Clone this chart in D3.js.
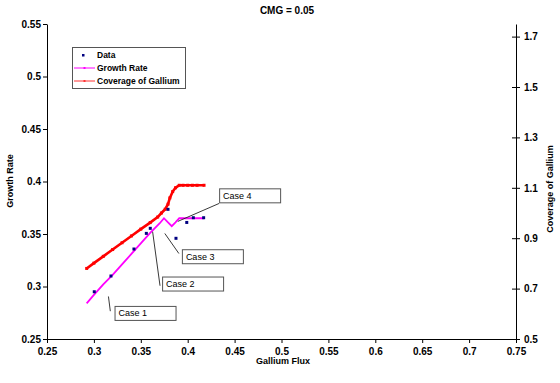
<!DOCTYPE html>
<html>
<head>
<meta charset="utf-8">
<script src="https://cdn.jsdelivr.net/npm/d3@7"></script>
<style>
  body { margin: 0; background: #fff; }
  svg { display: block; font-family: "Liberation Sans", Arial, sans-serif; }
</style>
</head>
<body>
<div id="chart"></div>
<script>
const title = "CMG = 0.05";

// measured points (navy dots)
const dataFlux = [0.3004, 0.3182, 0.3427, 0.3559, 0.3601, 0.379, 0.3875, 0.399, 0.406, 0.417];
const dataRate = [0.295, 0.310, 0.3357, 0.3506, 0.3554, 0.3735, 0.3459, 0.361, 0.3655, 0.3655];

// growth rate model (left axis)
const rateFlux = [0.2923, 0.300, 0.310, 0.320, 0.330, 0.340, 0.350, 0.360, 0.370, 0.3747, 0.379, 0.383, 0.387, 0.391, 0.400, 0.410, 0.4174];
const rateVals = [0.284, 0.292, 0.302, 0.311, 0.321, 0.331, 0.341, 0.351, 0.360, 0.365, 0.361, 0.3575, 0.361, 0.365, 0.365, 0.365, 0.365];

// coverage of gallium (right axis)
const covFlux = [0.2923, 0.300, 0.310, 0.320, 0.330, 0.340, 0.350, 0.360, 0.368, 0.372, 0.376, 0.379, 0.381, 0.384, 0.387, 0.391, 0.395, 0.400, 0.405, 0.410, 0.4174];
const covVals = [0.780, 0.801, 0.828, 0.855, 0.882, 0.909, 0.936, 0.962, 0.984, 1.000, 1.015, 1.035, 1.060, 1.085, 1.100, 1.110, 1.110, 1.110, 1.110, 1.110, 1.110];

const xTicks = [0.25, 0.3, 0.35, 0.4, 0.45, 0.5, 0.55, 0.6, 0.65, 0.7, 0.75];
const yLeftTicks = [0.25, 0.3, 0.35, 0.4, 0.45, 0.5, 0.55];
const yRightTicks = [0.5, 0.7, 0.9, 1.1, 1.3, 1.5, 1.7];

// callouts: label, point it refers to (flux, rate), box top-left in data units
const caseNames = ["Case 1", "Case 2", "Case 3", "Case 4"];
const caseFrom = [[0.3155, 0.2905], [0.3626, 0.3522], [0.3756, 0.3505], [0.3895, 0.362]];
const caseTo = [[0.3175, 0.2765], [0.3705, 0.3007], [0.3906, 0.3314], [0.4335, 0.3791]];
const caseBox = [[0.322, 0.2815], [0.3727, 0.3095], [0.3938, 0.3355], [0.4335, 0.3935]];

const W = 560, H = 383;
const L = 47, R = 516, T = 24, B = 339;

const x = d3.scaleLinear().domain([0.25, 0.75]).range([L, R]);
const yL = d3.scaleLinear().domain([0.25, 0.55]).range([B, T]);
const yR = d3.scaleLinear().domain([0.5, 1.75]).range([B, T]);

const svg = d3.select("#chart").append("svg").attr("width", W).attr("height", H);

svg.append("text")
  .attr("x", 287).attr("y", 14)
  .attr("text-anchor", "middle")
  .attr("font-size", "10px").attr("font-weight", "bold")
  .text(title);

// axes
const fmt = d => String(d);
const gx = svg.append("g").attr("transform", `translate(0,${B})`)
  .call(d3.axisBottom(x).tickValues(xTicks).tickFormat(fmt).tickSize(4).tickSizeOuter(0));
const gl = svg.append("g").attr("transform", `translate(${L},0)`)
  .call(d3.axisLeft(yL).tickValues(yLeftTicks).tickFormat(fmt).tickSize(4).tickSizeOuter(0));
const gr = svg.append("g").attr("transform", `translate(${R},0)`)
  .call(d3.axisRight(yR).tickValues(yRightTicks).tickFormat(fmt).tickSize(4).tickSizeOuter(0));
gr.selectAll(".tick line").attr("x1", -4);

[gx, gl, gr].forEach(g => {
  g.select(".domain").attr("stroke", "#000");
  g.selectAll(".tick line").attr("stroke", "#000");
  g.selectAll(".tick text")
    .attr("font-size", "10px").attr("font-weight", "bold")
    .attr("font-family", "Liberation Sans, Arial, sans-serif")
    .attr("fill", "#000");
});
gx.selectAll(".tick text").attr("dy", "0.9em");
gr.selectAll(".tick text").attr("x", 8);
gl.selectAll(".tick text").attr("x", -6);

svg.append("text")
  .attr("x", 283).attr("y", 364)
  .attr("text-anchor", "middle")
  .attr("font-size", "9px").attr("font-weight", "bold")
  .text("Gallium Flux");
svg.append("text")
  .attr("transform", "translate(13,181) rotate(-90)")
  .attr("text-anchor", "middle")
  .attr("font-size", "9px").attr("font-weight", "bold")
  .text("Growth Rate");
svg.append("text")
  .attr("transform", "translate(553,189) rotate(-90)")
  .attr("text-anchor", "middle")
  .attr("font-size", "9px").attr("font-weight", "bold")
  .text("Coverage of Gallium");

// coverage line
const covPts = covFlux.map((f, i) => [x(f), yR(covVals[i])]);
svg.append("path")
  .attr("d", d3.line()(covPts))
  .attr("fill", "none").attr("stroke", "#ff0000").attr("stroke-width", 2.6);
svg.selectAll(".covm").data(covPts).enter().append("rect")
  .attr("x", d => d[0] - 1.5).attr("y", d => d[1] - 1.5)
  .attr("width", 3).attr("height", 3).attr("fill", "#ff0000");

// growth rate line
const ratePts = rateFlux.map((f, i) => [x(f), yL(rateVals[i])]);
svg.append("path")
  .attr("d", d3.line()(ratePts))
  .attr("fill", "none").attr("stroke", "#ff00ff").attr("stroke-width", 1.8);

// data dots
svg.selectAll(".dot").data(dataFlux).enter().append("rect")
  .attr("x", (d) => x(d) - 1.5)
  .attr("y", (d, i) => yL(dataRate[i]) - 1.5)
  .attr("width", 3).attr("height", 3).attr("fill", "#000080");

// callouts
caseNames.forEach((name, i) => {
  svg.append("line")
    .attr("x1", x(caseFrom[i][0])).attr("y1", yL(caseFrom[i][1]))
    .attr("x2", x(caseTo[i][0])).attr("y2", yL(caseTo[i][1]))
    .attr("stroke", "#222").attr("stroke-width", 0.9);
  const bx = x(caseBox[i][0]), by = yL(caseBox[i][1]);
  svg.append("rect")
    .attr("x", bx + 0.5).attr("y", by + 0.5)
    .attr("width", 61).attr("height", 14)
    .attr("fill", "#fff").attr("stroke", "#555").attr("stroke-width", 1);
  svg.append("text")
    .attr("x", bx + 4).attr("y", by + 10.5)
    .attr("font-size", "9px")
    .text(name);
});

// legend
const lg = svg.append("g").attr("transform", "translate(72,47)");
lg.append("rect").attr("x", 0.5).attr("y", 0.5).attr("width", 113).attr("height", 41)
  .attr("fill", "#fff").attr("stroke", "#555");
const items = ["Data", "Growth Rate", "Coverage of Gallium"];
items.forEach((t, i) => {
  const yy = 8 + i * 13;
  if (i === 0) {
    lg.append("rect").attr("x", 10).attr("y", yy - 1).attr("width", 2.5).attr("height", 2.5).attr("fill", "#000080");
  } else {
    const c = i === 1 ? "#ff00ff" : "#ff3333";
    lg.append("line").attr("x1", 2).attr("x2", 23).attr("y1", yy).attr("y2", yy).attr("stroke", c).attr("stroke-width", 1);
    lg.append("rect").attr("x", 11.5).attr("y", yy - 1).attr("width", 2).attr("height", 2).attr("fill", c);
  }
  lg.append("text").attr("x", 25).attr("y", yy + 3.2)
    .attr("font-size", "8.5px").attr("font-weight", "bold").text(t);
});
</script>
</body>
</html>
